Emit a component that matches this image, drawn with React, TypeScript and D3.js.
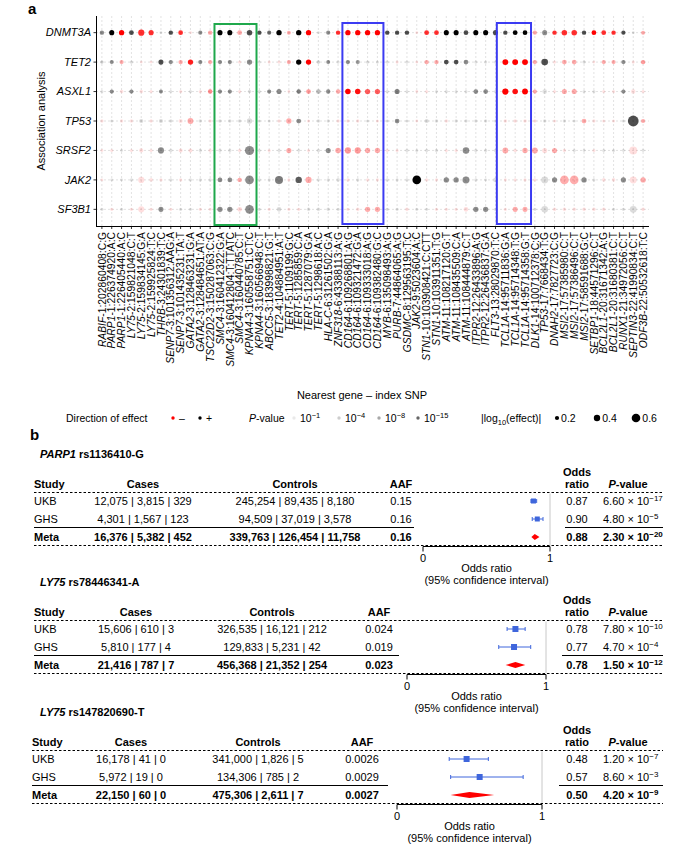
import React from "react";
import * as d3 from "d3";

// ---------------- Panel a data ----------------
const genes = ["DNMT3A", "TET2", "ASXL1", "TP53", "SRSF2", "JAK2", "SF3B1"];

const snps = [
  "RABIF-1:202860408:C:G", "PARP1-1:226374920:A:C", "PARP1-1:226405440:A:C",
  "LY75-2:159821048:C:T", "LY75-2:159834145:G:A", "LY75-2:159925824:T:C",
  "THRB-3:24301839:T:C", "SENP7-3:101356312:AAG:A", "SENP7-3:101435231:TA:T",
  "GATA2-3:128463231:G:A", "GATA2-3:128484651:AT:A", "TSC22D2-3:150287063:C:G",
  "SMC4-3:160412322:G:A", "SMC4-3:160412804:T:TTATC", "SMC4-3:160440785:C:T",
  "KPNA4-3:160558751:CT:C", "KPNA4-3:160566948:C:T", "ABCC5-3:183998821:G:T",
  "TET2-4:104884951:A:T", "TERT-5:1109199:G:C", "TERT-5:1285859:C:A",
  "TERT-5:1287079:G:A", "TERT-5:1298618:A:C", "HLA-C-6:31261502:G:A",
  "ZNF318-6:43388113:A:G", "CD164-6:109268801:A:G", "CD164-6:109321472:G:A",
  "CD164-6:109333018:A:G", "CD164-6:109382480:G:C", "MYB-6:135098493:A:G",
  "PURB-7:44864065:A:G", "GSDMC-8:129563195:T:C", "JAK2-9:5023604:A:C",
  "STN1-10:103908421:C:CTT", "STN1-10:103911351:T:G", "ATM-11:108217120:G:T",
  "ATM-11:108435509:C:A", "ATM-11:108444879:C:T", "ITPR2-12:26433896:A:G",
  "ITPR2-12:26436837:G:A", "FLT3-13:28029870:T:C", "TCL1A-14:95711836:G:A",
  "TCL1A-14:95714348:T:G", "TCL1A-14:95714358:G:T", "DLK1-14:100712378:C:G",
  "TP53-17:7668434:T:G", "DNAH2-17:7827723:C:G", "MSI2-17:57385980:C:T",
  "MSI2-17:57386496:C:T", "MSI2-17:58591688:G:C", "SETBP1-18:44571296:C:T",
  "BCL2L1-20:31671342:A:G", "BCL2L1-20:31680381:C:T", "RUNX1-21:34972056:C:T",
  "SEPTIN3-22:41990834:C:T", "ODF3B-22:50532618:T:C",
];

// signed log10(effect): negative = red (−), positive = black (+)
const effDNMT3A = [0.22,0.28,-0.3,0.25,-0.38,-0.28,0.08,0.22,-0.25,-0.08, 0.2,-0.22,0.28,0.28,-0.25,0.32,0.22,0.2,0.3,-0.18, 0.3,-0.3,0.08,0.2,-0.22,-0.3,-0.3,-0.3,-0.3,0.22, 0.22,0.22,-0.08,-0.25,-0.25,0.28,0.28,0.25,0.28,0.28, 0.28,0.22,0.25,0.25,-0.2,0.28,-0.22,-0.32,-0.32,0.22, -0.25,-0.25,-0.22,0.2,0.08,-0.18];
const effTET2 = [0.12,0.18,-0.2,0.12,-0.08,-0.08,0.28,0.2,-0.22,-0.3, 0.2,-0.2,0.2,0.2,-0.12,0.3,0.1,-0.1,-0.1,-0.2, 0.3,-0.3,0.15,0.18,0.1,0.2,0.2,0.12,0.1,0.1, -0.1,0.1,-0.08,-0.22,-0.22,0.25,0.25,0.25,0.1,0.1, 0.1,-0.35,-0.35,-0.35,-0.2,0.42,-0.1,-0.25,-0.25,0.12, -0.08,-0.2,-0.2,0.2,-0.1,-0.22];
const effASXL1 = [0.1,0.2,-0.15,0.2,-0.15,-0.1,0.18,0.1,-0.12,0.12, -0.12,-0.22,0.2,0.2,-0.12,0.15,0.12,0.2,0.28,-0.08, 0.22,-0.25,0.25,0.22,-0.22,-0.32,-0.32,-0.3,-0.3,0.12, 0.28,0.1,-0.08,-0.1,0.1,0.12,0.1,0.1,0.25,0.25, 0.1,-0.38,-0.32,-0.35,-0.2,0.25,-0.1,-0.28,-0.28,0.1, 0.1,-0.1,-0.1,0.2,-0.22,-0.1];
const effTP53 = [-0.12,0.1,-0.12,-0.12,0.2,-0.12,0.2,0.15,-0.2,-0.35, 0.15,-0.12,0.15,0.15,0.15,0.3,0.1,0.1,-0.12,-0.3, 0.25,-0.1,0.15,0.12,-0.12,-0.12,-0.12,0.1,-0.1,0.1, 0.25,0.1,-0.08,0.2,0.15,-0.12,0.12,0.12,0.12,0.12, 0.1,-0.15,-0.15,-0.15,-0.12,0.15,-0.1,0.12,0.1,-0.25, -0.12,-0.1,-0.1,0.1,0.8,-0.2];
const effSRSF2 = [-0.08,-0.1,0.08,-0.1,-0.2,-0.1,0.38,0.15,-0.18,-0.18, 0.12,-0.12,0.12,0.12,-0.12,0.65,0.1,-0.1,0.1,-0.28, 0.08,-0.1,0.15,0.28,-0.32,-0.38,-0.38,-0.3,-0.3,-0.1, -0.1,0.12,0.1,0.12,0.12,-0.1,-0.1,0.42,0.12,0.12, 0.12,-0.35,-0.15,-0.3,-0.35,-0.28,-0.28,-0.12,0.1,0.08, -0.1,0.1,0.1,0.08,-0.55,0.08];
const effJAK2 = [-0.08,0.08,0.08,0.12,-0.38,-0.15,-0.12,0.1,-0.12,0.1, 0.12,0.12,0.25,0.25,-0.22,0.6,0.12,0.1,0.55,-0.1, 0.4,-0.38,0.1,0.12,0.15,-0.12,0.12,-0.1,-0.1,0.1, 0.1,0.1,0.6,-0.1,-0.1,0.3,0.3,0.45,0.1,0.08, 0.25,-0.1,-0.1,-0.1,-0.1,0.45,0.28,-0.6,-0.6,0.3, 0.1,-0.15,-0.15,0.28,-0.45,-0.3];
const effSF3B1 = [0.12,-0.12,0.12,-0.12,-0.38,-0.12,0.28,-0.1,0.12,0.1, -0.12,-0.1,0.3,0.3,-0.25,0.6,0.12,-0.12,0.25,-0.12, -0.12,0.15,0.15,0.15,0.12,-0.12,-0.15,-0.3,-0.3,0.12, 0.12,-0.15,0.12,0.1,-0.12,-0.12,-0.12,-0.25,0.3,0.3, 0.12,-0.12,-0.28,-0.28,0.12,0.42,-0.15,-0.15,-0.15,-0.15, -0.15,-0.15,0.12,0.12,0.45,-0.15];

// −log10(P-value)
const pDNMT3A = [6,16,16,10,12,12,0.6,10,12,0.6, 6,4,16,16,4,10,10,8,16,4, 16,16,0.6,6,12,16,16,16,16,10, 10,10,0.6,12,12,16,16,10,16,16, 10,10,16,16,4,6,12,12,12,10, 16,12,12,10,0.6,4];
const pTET2 = [2,6,4,1,0.6,0.6,10,6,4,13, 6,4,6,6,0.6,6,0.6,0.6,0.6,4, 16,16,1.5,6,0.6,6,5,1,0.6,0.6, 0.6,0.6,0.6,4,4,10,10,6,0.6,0.6, 0.6,16,16,16,4,10,0.6,4,4,1, 0.6,4,4,6,0.6,5];
const pASXL1 = [0.6,6,0.6,6,0.6,0.6,6,0.6,0.6,0.6, 0.6,6,6,6,0.6,0.6,0.6,6,6,0.6, 7,5,3,6,4,16,14,9,9,0.6, 7,0.6,0.6,0.6,0.6,0.6,0.6,0.6,6,6, 0.6,16,14,16,4,0.6,0.6,4,4,0.6, 0.6,0.6,0.6,6,0.6,0.6];
const pTP53 = [0.6,0.6,0.6,0.6,1,0.6,1,0.6,0.6,4, 0.6,0.6,0.6,0.6,0.6,1,0.6,0.6,0.6,4, 6,0.6,0.6,0.6,0.6,0.6,0.6,0.6,0.6,0.6, 6,0.6,0.6,1,0.6,0.6,0.6,0.6,0.6,0.6, 0.6,0.6,0.6,0.6,0.6,0.6,0.6,0.6,0.6,4, 0.6,0.6,0.6,0.6,10,4];
const pSRSF2 = [0.6,0.6,0.6,0.6,0.8,0.6,6,0.6,0.8,0.8, 0.6,0.6,0.6,0.6,0.6,6,0.6,0.6,0.6,4, 0.6,0.6,0.6,6,4,5,5,4,4,0.6, 0.6,0.6,0.6,0.6,0.6,0.6,0.6,6,0.6,0.6, 0.6,4,0.6,4,4,0.8,4,0.6,0.6,0.6, 0.6,0.6,0.6,0.6,0.8,0.6];
const pJAK2 = [0.6,0.6,0.6,0.6,0.8,0.6,0.6,0.6,0.6,0.6, 0.6,0.6,6,6,4,6,0.6,0.6,7,0.6, 9,4,0.6,0.6,0.6,0.6,0.6,0.6,0.6,0.6, 0.6,0.6,16,0.6,0.6,6,6,6,0.6,0.6, 0.6,0.6,0.6,0.6,0.6,1,6,4,4,6, 0.6,0.6,0.6,6,0.8,4];
const pSF3B1 = [0.6,0.6,0.6,0.6,0.8,0.6,6,0.6,0.6,0.6, 0.6,0.6,6,6,1,6,0.6,0.6,0.8,0.6, 0.6,0.6,0.6,0.6,0.6,0.6,0.6,4,4,0.6, 0.6,0.6,0.6,0.6,0.6,0.6,0.6,0.8,6,6, 0.6,0.6,4,4,0.6,1,0.6,0.6,0.6,0.6, 0.6,0.6,0.6,0.6,1,0.6];

const effectRows = [effDNMT3A, effTET2, effASXL1, effTP53, effSRSF2, effJAK2, effSF3B1];
const pRows = [pDNMT3A, pTET2, pASXL1, pTP53, pSRSF2, pJAK2, pSF3B1];

// highlighted loci (first and last SNP of each box)
const boxFrom = ["SMC4-3:160412322:G:A", "CD164-6:109268801:A:G", "TCL1A-14:95711836:G:A"];
const boxTo = ["KPNA4-3:160558751:CT:C", "CD164-6:109382480:G:C", "TCL1A-14:95714358:G:T"];
const boxKinds = ["green", "blue", "blue"];

// legend values
const legendPValueExp = [1, 4, 8, 15];
const legendEffect = [0.2, 0.4, 0.6];

// ---------------- Panel b data ----------------
const forestGenes = ["PARP1", "LY75", "LY75"];
const forestVariants = ["rs1136410-G", "rs78446341-A", "rs147820690-T"];
const studies = ["UKB", "GHS", "Meta"];
const casesCounts = [
  [[12075, 3815, 329], [4301, 1567, 123], [16376, 5382, 452]],
  [[15606, 610, 3], [5810, 177, 4], [21416, 787, 7]],
  [[16178, 41, 0], [5972, 19, 0], [22150, 60, 0]],
];
const controlsCounts = [
  [[245254, 89435, 8180], [94509, 37019, 3578], [339763, 126454, 11758]],
  [[326535, 16121, 212], [129833, 5231, 42], [456368, 21352, 254]],
  [[341000, 1826, 5], [134306, 785, 2], [475306, 2611, 7]],
];
const aafValues = [[0.15, 0.16, 0.16], [0.024, 0.019, 0.023], [0.0026, 0.0029, 0.0027]];
const oddsRatios = [[0.87, 0.90, 0.88], [0.78, 0.77, 0.78], [0.48, 0.57, 0.50]];
const ciLow = [[0.85, 0.86, 0.865], [0.72, 0.66, 0.72], [0.36, 0.37, 0.38]];
const ciHigh = [[0.895, 0.945, 0.905], [0.85, 0.89, 0.84], [0.63, 0.87, 0.66]];
const pMantissa = [[6.6, 4.8, 2.3], [7.8, 4.7, 1.5], [1.2, 8.6, 4.2]];
const pExponent = [[-17, -5, -20], [-10, -4, -12], [-7, -3, -9]];
const orTicks = [0, 1];

// ---------------- layout / style ----------------
const FONT = "'Liberation Sans', Arial, Helvetica, sans-serif";
const RED = "#ff0000";
const BOX_COLORS: Record<string, string> = { green: "#1fa84c", blue: "#3b3bf2" };
const FOREST_LAYOUT = [
  { dy: 0, studyX: 34, casesX: 143, controlsX: 295, aafX: 401, leftEnd: 414, or0: 423, or1: 550, rightStart: 565, sq: 5 },
  { dy: 128, studyX: 34, casesX: 136, controlsX: 272, aafX: 379, leftEnd: 399, or0: 407, or1: 546, rightStart: 562, sq: 6 },
  { dy: 258, studyX: 32, casesX: 131, controlsX: 258, aafX: 362, leftEnd: 388, or0: 397, or1: 542, rightStart: 559, sq: 6 },
];

const x = d3.scalePoint<string>().domain(snps).range([96, 649]).padding(0.6);
const y = d3.scalePoint<string>().domain(genes).range([16, 226]).padding(0.565);
const rScale = d3.scaleLinear().domain([0, 0.6]).range([1.0, 4.3]);
const alpha = d3.scaleLinear().domain([0, 15]).range([0.08, 1]).clamp(true);
const fmt = d3.format(",");

function splitSnp(s: string) {
  const m = s.match(/^(.*?)-(\d+:.*)$/);
  return m ? [m[1], m[2]] : [s, ""];
}

function PanelA() {
  const x0 = 96, x1 = 649, yTop = 16, yBot = 226;
  return (
    <g>
      <text x={28} y={14} fontSize={15} fontWeight="bold">a</text>
      {/* grid */}
      {snps.map((s) => (
        <line key={"gv" + s} x1={x(s)} x2={x(s)} y1={yTop} y2={yBot} stroke="#cfcfcf" strokeWidth={0.6} strokeDasharray="2,2" />
      ))}
      {genes.map((g) => (
        <line key={"gh" + g} x1={x0} x2={x1} y1={y(g)} y2={y(g)} stroke="#cfcfcf" strokeWidth={0.6} strokeDasharray="2,2" />
      ))}
      {/* dots */}
      {genes.map((g, gi) =>
        snps.map((s, si) => {
          const e = effectRows[gi][si];
          const p = pRows[gi][si];
          return (
            <circle key={g + s} cx={x(s)} cy={y(g)} r={rScale(Math.abs(e))} fill={e < 0 ? RED : "#000"} fillOpacity={alpha(p)} />
          );
        })
      )}
      {/* boxes */}
      {boxFrom.map((f, i) => {
        const left = (x(f) as number) - (i === 2 ? 8.5 : 5.5);
        const right = (x(boxTo[i]) as number) + (i === 0 ? 7 : 6);
        return (
          <rect key={"box" + i} x={left} y={i === 0 ? 24 : 23} width={right - left} height={201}
            fill="none" stroke={BOX_COLORS[boxKinds[i]]} strokeWidth={2} />
        );
      })}
      {/* axes */}
      <line x1={x0 + 0.5} x2={x0 + 0.5} y1={yTop} y2={yBot} stroke="#000" strokeWidth={1} />
      <line x1={x0} x2={x1} y1={yBot + 0.5} y2={yBot + 0.5} stroke="#000" strokeWidth={1} />
      {genes.map((g) => (
        <g key={"yt" + g}>
          <line x1={x0 - 2.5} x2={x0} y1={y(g)} y2={y(g)} stroke="#000" strokeWidth={0.8} />
          <text x={91} y={y(g)} dy="0.35em" textAnchor="end" fontSize={11} fontStyle="italic">{g}</text>
        </g>
      ))}
      {snps.map((s) => {
        const [gene, rest] = splitSnp(s);
        return (
          <g key={"xt" + s}>
            <line x1={x(s)} x2={x(s)} y1={yBot} y2={yBot + 3} stroke="#000" strokeWidth={0.8} />
            <text transform={`translate(${(x(s) as number) + 3.7},232) rotate(-90)`} textAnchor="end" fontSize={10.3}>
              <tspan fontStyle="italic">{gene}</tspan>-{rest}
            </text>
          </g>
        );
      })}
      <text transform="translate(45,121) rotate(-90)" textAnchor="middle" fontSize={11}>Association analysis</text>
      <text x={362} y={399} textAnchor="middle" fontSize={11}>Nearest gene – index SNP</text>
    </g>
  );
}

function Legend() {
  const ly = 418;
  const pDotX = [294, 339, 379, 418];
  const sizeDotX = [557, 597, 636];
  return (
    <g fontSize={10.5}>
      <text x={66} y={ly} dy="0.35em">Direction of effect</text>
      <circle cx={173} cy={ly} r={1.7} fill={RED} />
      <text x={179} y={ly} dy="0.35em">–</text>
      <circle cx={200} cy={ly} r={1.7} fill="#000" />
      <text x={206} y={ly} dy="0.35em">+</text>
      <text x={249} y={ly} dy="0.35em"><tspan fontStyle="italic">P</tspan>-value</text>
      {legendPValueExp.map((e, i) => (
        <g key={"lp" + e}>
          <circle cx={pDotX[i]} cy={ly} r={1.7} fill="#000" fillOpacity={alpha(e) * 0.6} />
          <text x={pDotX[i] + 6} y={ly} dy="0.35em">10<tspan dy={-4} fontSize={7.5}>−{e}</tspan></text>
        </g>
      ))}
      <text x={481} y={ly} dy="0.35em">|log<tspan dy={3} fontSize={7.5}>10</tspan><tspan dy={-3}>(effect)|</tspan></text>
      {legendEffect.map((v, i) => (
        <g key={"ls" + v}>
          <circle cx={sizeDotX[i]} cy={ly} r={rScale(v)} fill="#000" />
          <text x={sizeDotX[i] + rScale(v) + 2} y={ly} dy="0.35em">{v.toFixed(1)}</text>
        </g>
      ))}
    </g>
  );
}

function Forest({ fi }: { fi: number }) {
  const L = FOREST_LAYOUT[fi];
  const o = L.dy;
  const rightEnd = 663, orX = 577, pX = 603, pHdrX = 628;
  const titleY = 458 + o, hdr1 = 476 + o, hdr2 = 488 + o, dash1 = 492.5 + o;
  const rowY = [505 + o, 523 + o, 541 + o];
  const solidY = 527.5 + o, dash2 = 545.5 + o, axisY = 546.5 + o;
  const xs = d3.scaleLinear().domain([0, 1]).range([L.or0, L.or1]);
  const blue = "#3f66dc";
  return (
    <g fontSize={11}>
      <text x={40} y={titleY} fontWeight="bold"><tspan fontStyle="italic">{forestGenes[fi]}</tspan> {forestVariants[fi]}</text>
      <g fontWeight="bold">
        <text x={L.studyX} y={hdr2}>Study</text>
        <text x={L.casesX} y={hdr2} textAnchor="middle">Cases</text>
        <text x={L.controlsX} y={hdr2} textAnchor="middle">Controls</text>
        <text x={L.aafX} y={hdr2} textAnchor="middle">AAF</text>
        <text x={orX} y={hdr1} textAnchor="middle">Odds</text>
        <text x={orX} y={hdr2} textAnchor="middle">ratio</text>
        <text x={pHdrX} y={hdr2} textAnchor="middle"><tspan fontStyle="italic">P</tspan>-value</text>
      </g>
      <line x1={L.studyX} x2={rightEnd} y1={dash1} y2={dash1} stroke="#000" strokeWidth={1} strokeDasharray="2.5,2" />
      <line x1={xs(1)} x2={xs(1)} y1={dash1 + 1} y2={dash2} stroke="#c8c8c8" strokeWidth={1} />
      {studies.map((s, i) => {
        const bold = i === 2 ? "bold" : "normal";
        const yy = rowY[i];
        const cy = yy - 4;
        return (
          <g key={s} fontWeight={bold}>
            <text x={L.studyX} y={yy}>{s}</text>
            <text x={L.casesX} y={yy} textAnchor="middle">{casesCounts[fi][i].map((c) => fmt(c)).join(" | ")}</text>
            <text x={L.controlsX} y={yy} textAnchor="middle">{controlsCounts[fi][i].map((c) => fmt(c)).join(" | ")}</text>
            <text x={L.aafX} y={yy} textAnchor="middle">{String(aafValues[fi][i])}</text>
            <text x={orX} y={yy} textAnchor="middle">{oddsRatios[fi][i].toFixed(2)}</text>
            <text x={pX} y={yy}>{pMantissa[fi][i].toFixed(2)} × 10<tspan dy={-4.5} fontSize={8}>−{Math.abs(pExponent[fi][i])}</tspan></text>
            {i < 2 ? (
              <g>
                <line x1={xs(ciLow[fi][i])} x2={xs(ciHigh[fi][i])} y1={cy} y2={cy} stroke={blue} strokeWidth={1} />
                <line x1={xs(ciLow[fi][i])} x2={xs(ciLow[fi][i])} y1={cy - 2} y2={cy + 2} stroke={blue} strokeWidth={1} />
                <line x1={xs(ciHigh[fi][i])} x2={xs(ciHigh[fi][i])} y1={cy - 2} y2={cy + 2} stroke={blue} strokeWidth={1} />
                <rect x={xs(oddsRatios[fi][i]) - L.sq / 2} y={cy - L.sq / 2} width={L.sq} height={L.sq} fill={blue} />
              </g>
            ) : (
              <path d={`M${xs(ciLow[fi][i]) - 1.5},${cy} L${xs(oddsRatios[fi][i])},${cy - 3} L${xs(ciHigh[fi][i]) + 1.5},${cy} L${xs(oddsRatios[fi][i])},${cy + 3} Z`} fill={RED} />
            )}
          </g>
        );
      })}
      <line x1={L.studyX} x2={L.leftEnd} y1={solidY} y2={solidY} stroke="#000" strokeWidth={1} />
      <line x1={L.rightStart} x2={rightEnd} y1={solidY} y2={solidY} stroke="#000" strokeWidth={1} />
      <line x1={L.studyX} x2={rightEnd} y1={dash2} y2={dash2} stroke="#000" strokeWidth={1} strokeDasharray="2.5,2" />
      <line x1={xs(0)} x2={xs(1)} y1={axisY} y2={axisY} stroke="#000" strokeWidth={1} />
      {orTicks.map((t) => (
        <g key={"t" + t}>
          <line x1={xs(t)} x2={xs(t)} y1={axisY} y2={axisY + 5} stroke="#000" strokeWidth={1} />
          <text x={xs(t)} y={axisY + 15} textAnchor="middle">{t}</text>
        </g>
      ))}
      <text x={xs(0.5)} y={axisY + 25.5} textAnchor="middle">Odds ratio</text>
      <text x={xs(0.5)} y={axisY + 37.5} textAnchor="middle">(95% confidence interval)</text>
    </g>
  );
}

export default function App() {
  return (
    <svg width={683} height={854} style={{ position: "absolute", left: 0, top: 0, background: "#fff" }} fontFamily={FONT}>
      <rect width={683} height={854} fill="#fff" />
      <PanelA />
      <Legend />
      <text x={30} y={440} fontSize={15} fontWeight="bold">b</text>
      {FOREST_LAYOUT.map((_, i) => (
        <Forest key={i} fi={i} />
      ))}
    </svg>
  );
}
